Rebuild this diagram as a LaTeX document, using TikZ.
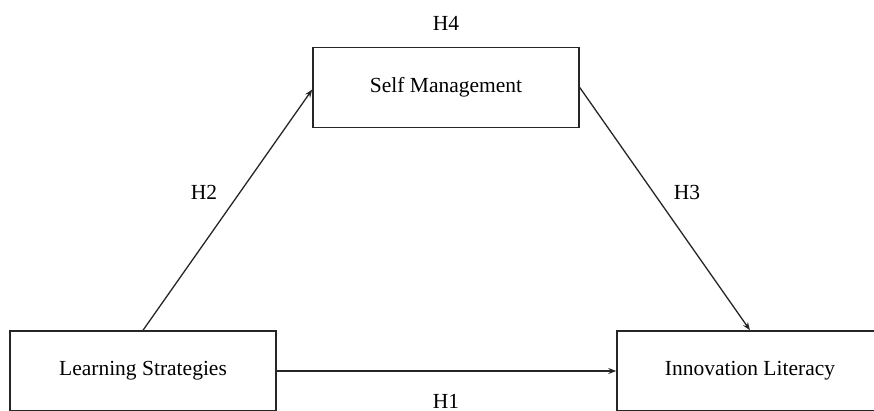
\documentclass[tikz,border=0pt]{standalone}
\usepackage{fontspec}
\setmainfont{Liberation Serif}
\usetikzlibrary{arrows.meta}
\begin{document}
\begin{tikzpicture}[x=1pt,y=-1pt,
  varbox/.style={draw=black!85,line width=1.5pt,minimum width=266pt,minimum height=80pt,inner sep=0pt,font=\fontsize{21.5}{24}\selectfont},
  lbl/.style={font=\fontsize{21.5}{24}\selectfont,inner sep=0pt},
  conn/.style={draw=black!85,line width=1.3pt,-{Stealth[length=8pt,width=6pt]}}]
\useasboundingbox (0,0) rectangle (874,410);
\clip (0,0) rectangle (874,410);
\node[varbox] (sm) at (446,87.5) {Self Management};
\node[varbox] (ls) at (143,371) {Learning Strategies};
\node[varbox] (il) at (750,371) {Innovation Literacy};
\node[lbl] (h4) at (446,23) {H4};
\node[lbl] (h2) at (204,192) {H2};
\node[lbl] (h3) at (687,192) {H3};
\node[lbl] (h1) at (446,401) {H1};
\draw[conn] (ls.north) -- ([yshift=-2pt]sm.west);
\draw[conn] (sm.east) -- (il.north);
\draw[conn] (ls.east) -- (il.west);
\end{tikzpicture}
\end{document}
